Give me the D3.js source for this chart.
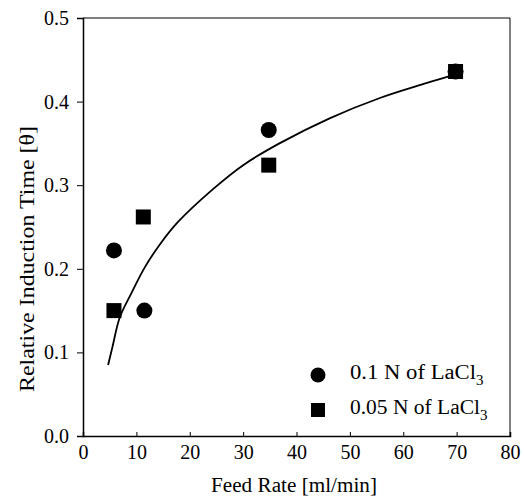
<!DOCTYPE html>
<html>
<head>
<meta charset="utf-8">
<script src="https://cdn.jsdelivr.net/npm/d3@7"></script>
<style>
html,body{margin:0;padding:0;background:#fff;}
svg{display:block;font-family:"Liberation Serif","Times New Roman",serif;}
</style>
</head>
<body>
<svg id="chart" width="524" height="501"></svg>
<script>
// Data
const xTicks = [0, 10, 20, 30, 40, 50, 60, 70, 80];
const yTicks = [0.0, 0.1, 0.2, 0.3, 0.4, 0.5];
const seriesNames = ["0.1 N of LaCl", "0.05 N of LaCl"];
const circleX = [5.8, 11.5, 34.8, 69.8];
const circleY = [0.222, 0.150, 0.366, 0.436];
const squareX = [5.8, 11.3, 34.8, 69.8];
const squareY = [0.150, 0.262, 0.324, 0.436];
const fitX = [4.7, 5.5, 6.9, 9.0, 11.6, 14.5, 17.8, 24.3, 30.0, 36.8, 46.2, 55.5, 64.3, 69.5];
const fitY = [0.085, 0.106, 0.142, 0.170, 0.202, 0.230, 0.256, 0.295, 0.324, 0.350, 0.380, 0.404, 0.422, 0.432];

const svg = d3.select("#chart");
const L = 83, R = 510, T = 18, B = 436;
const x = d3.scaleLinear().domain([0, 80]).range([L, R]);
const y = d3.scaleLinear().domain([0, 0.5]).range([B, T]);

// frame (top/right thin)
svg.append("line").attr("x1", L).attr("x2", R).attr("y1", T).attr("y2", T)
  .attr("stroke", "#000").attr("stroke-width", 1);
svg.append("line").attr("x1", R).attr("x2", R).attr("y1", T).attr("y2", B)
  .attr("stroke", "#000").attr("stroke-width", 1);

// x axis: ticks inward
const xAxis = d3.axisBottom(x).tickValues(xTicks).tickSize(-4).tickPadding(8).tickFormat(d3.format("d"));
const gx = svg.append("g").attr("transform", `translate(0,${B})`).call(xAxis);
gx.select(".domain").attr("stroke-width", 1.5);
gx.selectAll(".tick line").attr("stroke-width", 1);
gx.selectAll("text").attr("font-size", 20).attr("font-family", "Liberation Serif").attr("fill", "#000")
  .attr("dy", "0.75em");

// y axis: ticks outward
const yAxis = d3.axisLeft(y).tickValues(yTicks).tickSize(6).tickPadding(8).tickFormat(d3.format(".1f"));
const gy = svg.append("g").attr("transform", `translate(${L},0)`).call(yAxis);
gy.select(".domain").attr("stroke-width", 1.5);
gy.selectAll(".tick line").attr("stroke-width", 1);
gy.selectAll("text").attr("font-size", 20).attr("font-family", "Liberation Serif").attr("fill", "#000");

// fitted curve
const fit = fitX.map((v, i) => [v, fitY[i]]);
svg.append("path").datum(fit)
  .attr("fill", "none").attr("stroke", "#000").attr("stroke-width", 1.8)
  .attr("d", d3.line().x(d => x(d[0])).y(d => y(d[1])).curve(d3.curveCatmullRom));

// circles
svg.selectAll("circle.pt").data(circleX.map((v, i) => [v, circleY[i]])).enter()
  .append("circle").attr("class", "pt")
  .attr("cx", d => x(d[0])).attr("cy", d => y(d[1])).attr("r", 8).attr("fill", "#000");

// squares
const s = 15;
svg.selectAll("rect.pt").data(squareX.map((v, i) => [v, squareY[i]])).enter()
  .append("rect").attr("class", "pt")
  .attr("x", d => x(d[0]) - s / 2).attr("y", d => y(d[1]) - s / 2)
  .attr("width", s).attr("height", s).attr("fill", "#000");

// legend
const lg = svg.append("g");
lg.append("circle").attr("cx", 318).attr("cy", 375).attr("r", 7.5).attr("fill", "#000");
lg.append("rect").attr("x", 311).attr("y", 403).attr("width", 14).attr("height", 14).attr("fill", "#000");
const legW = [126, 130];
[379, 414].forEach((by, i) => {
  lg.append("text").attr("x", 350).attr("y", by)
    .attr("font-size", 20).attr("fill", "#000")
    .attr("textLength", legW[i]).attr("lengthAdjust", "spacingAndGlyphs")
    .text(seriesNames[i]);
  lg.append("text").attr("x", 350 + legW[i]).attr("y", by + 6)
    .attr("font-size", 15).attr("fill", "#000").text("3");
});

// axis titles
svg.append("text").attr("x", 294).attr("y", 492).attr("text-anchor", "middle")
  .attr("font-size", 20).attr("fill", "#000")
  .attr("textLength", 166).attr("lengthAdjust", "spacingAndGlyphs")
  .text("Feed Rate [ml/min]");
svg.append("text").attr("transform", "translate(34,259) rotate(-90)").attr("text-anchor", "middle")
  .attr("font-size", 20).attr("fill", "#000")
  .attr("textLength", 266).attr("lengthAdjust", "spacingAndGlyphs")
  .text("Relative Induction Time [θ]");
</script>
</body>
</html>
